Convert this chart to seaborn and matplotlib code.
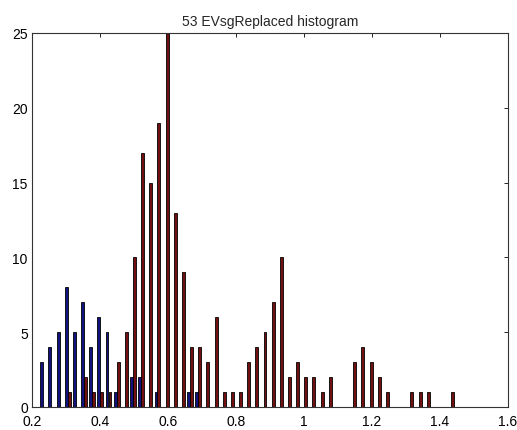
import pandas as pd
import matplotlib
matplotlib.use('Agg')
import matplotlib.pyplot as plt
import seaborn as sns

# Bin centres (51 bins)
bin_centers = [0.233, 0.257, 0.281, 0.305, 0.329, 0.353, 0.377, 0.401, 0.425, 0.449,
               0.473, 0.497, 0.521, 0.545, 0.569, 0.593, 0.617, 0.641, 0.665, 0.689,
               0.713, 0.737, 0.761, 0.785, 0.809, 0.833, 0.857, 0.881, 0.905, 0.929,
               0.953, 0.977, 1.001, 1.025, 1.049, 1.073, 1.097, 1.121, 1.145, 1.169,
               1.193, 1.217, 1.241, 1.265, 1.289, 1.313, 1.337, 1.361, 1.385, 1.409,
               1.433]

# Counts per bin, first series (dark blue)
blue_counts = [3, 4, 5, 8, 5, 7, 4, 6, 5, 1,
               0, 2, 2, 0, 1, 0, 0, 0, 1, 1,
               0, 0, 0, 0, 0, 0, 0, 0, 0, 0,
               0, 0, 0, 0, 0, 0, 0, 0, 0, 0,
               0, 0, 0, 0, 0, 0, 0, 0, 0, 0,
               0]

# Counts per bin, second series (dark red)
red_counts = [0, 0, 0, 1, 0, 2, 1, 1, 1, 3,
              5, 10, 17, 15, 19, 25, 13, 9, 4, 4,
              3, 6, 1, 1, 1, 3, 4, 5, 7, 10,
              2, 3, 2, 2, 1, 2, 0, 0, 3, 4,
              3, 2, 1, 0, 0, 1, 1, 1, 0, 0,
              1]

x_ticks = [0.2, 0.4, 0.6, 0.8, 1.0, 1.2, 1.4, 1.6]
x_tick_labels = ['0.2', '0.4', '0.6', '0.8', '1', '1.2', '1.4', '1.6']
y_ticks = [0, 5, 10, 15, 20, 25]

series_names = ['first', 'second']
series_colors = {'first': '#000090', 'second': '#800000'}

# Build long table for seaborn
df = pd.DataFrame({
    'center': bin_centers * 2,
    'count': blue_counts + red_counts,
    'series': ['first'] * len(bin_centers) + ['second'] * len(bin_centers),
})
df = df[df['count'] > 0]

sns.set_style('white')
plt.rcParams['font.family'] = ['Liberation Sans', 'DejaVu Sans']

fig = plt.figure(figsize=(5.17, 4.31), dpi=100)
ax = fig.add_axes([32 / 517, 23 / 431, 476 / 517, 374 / 431])

sns.barplot(data=df, x='center', y='count', hue='series', hue_order=series_names,
            palette=series_colors, native_scale=True, dodge=True, width=0.72,
            errorbar=None, edgecolor='black', linewidth=0.6, legend=False, ax=ax)

ax.set_xlim(0.2, 1.6)
ax.set_ylim(0, 25)
ax.set_xticks(x_ticks)
ax.set_xticklabels(x_tick_labels)
ax.set_yticks(y_ticks)
ax.set_xlabel('')
ax.set_ylabel('')
ax.set_title('53 EVsgReplaced histogram', fontsize=10, pad=6)

ax.tick_params(direction='in', top=True, right=True, length=3, width=0.6,
               labelsize=10, colors='black')
ax.tick_params(axis='x', pad=5)
ax.tick_params(axis='y', pad=3)
for spine in ax.spines.values():
    spine.set_visible(True)
    spine.set_color('#333333')
    spine.set_linewidth(0.8)

fig.savefig('out.png', dpi=100, facecolor='white')
